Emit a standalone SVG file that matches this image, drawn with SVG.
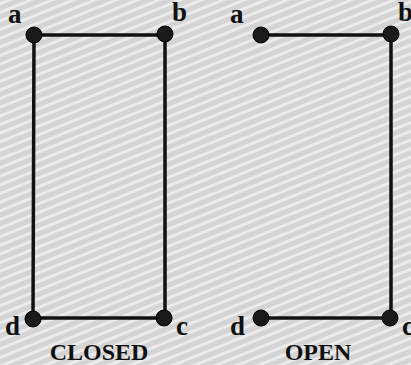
<svg xmlns="http://www.w3.org/2000/svg" width="411" height="365" viewBox="0 0 411 365">
<defs>
<pattern id="tex" width="16" height="8" patternUnits="userSpaceOnUse" patternTransform="rotate(-22)">
<rect width="16" height="8" fill="#d4d4d4"/>
<rect y="2" width="16" height="3" fill="#ebebeb"/>
</pattern>
</defs>
<style>
.ln{stroke:#111;stroke-width:3.5;fill:none;stroke-linecap:round}
.dot{fill:#1a1a1a;stroke:#000;stroke-width:1}
.lbl{font-family:"Liberation Serif",serif;font-weight:bold;font-size:27px;fill:#111}
.cap{font-family:"Liberation Serif",serif;font-weight:bold;font-size:24px;fill:#111;text-anchor:middle}
</style>
<rect width="411" height="365" fill="url(#tex)"/>
<g id="connectors">
<path class="ln" d="M34 35 H165 V318 H33 Z"/>
<path class="ln" d="M261 35 H391 V318 H260"/>
</g>
<g id="closed-a"><circle class="dot" cx="34" cy="35" r="8"/><text class="lbl" x="8" y="23">a</text></g>
<g id="closed-b"><circle class="dot" cx="165" cy="34" r="8"/><text class="lbl" x="172" y="21">b</text></g>
<g id="closed-c"><circle class="dot" cx="164" cy="318" r="8"/><text class="lbl" x="176" y="335">c</text></g>
<g id="closed-d"><circle class="dot" cx="33" cy="319" r="8"/><text class="lbl" x="5" y="335">d</text></g>
<g id="open-a"><circle class="dot" cx="261" cy="35" r="8"/><text class="lbl" x="230" y="23">a</text></g>
<g id="open-b"><circle class="dot" cx="391" cy="34" r="8"/><text class="lbl" x="398" y="21">b</text></g>
<g id="open-c"><circle class="dot" cx="390" cy="318" r="8"/><text class="lbl" x="402" y="335">c</text></g>
<g id="open-d"><circle class="dot" cx="261" cy="318" r="8"/><text class="lbl" x="230" y="335">d</text></g>
<text class="cap" x="99" y="360">CLOSED</text>
<text class="cap" x="318" y="360">OPEN</text>
</svg>
